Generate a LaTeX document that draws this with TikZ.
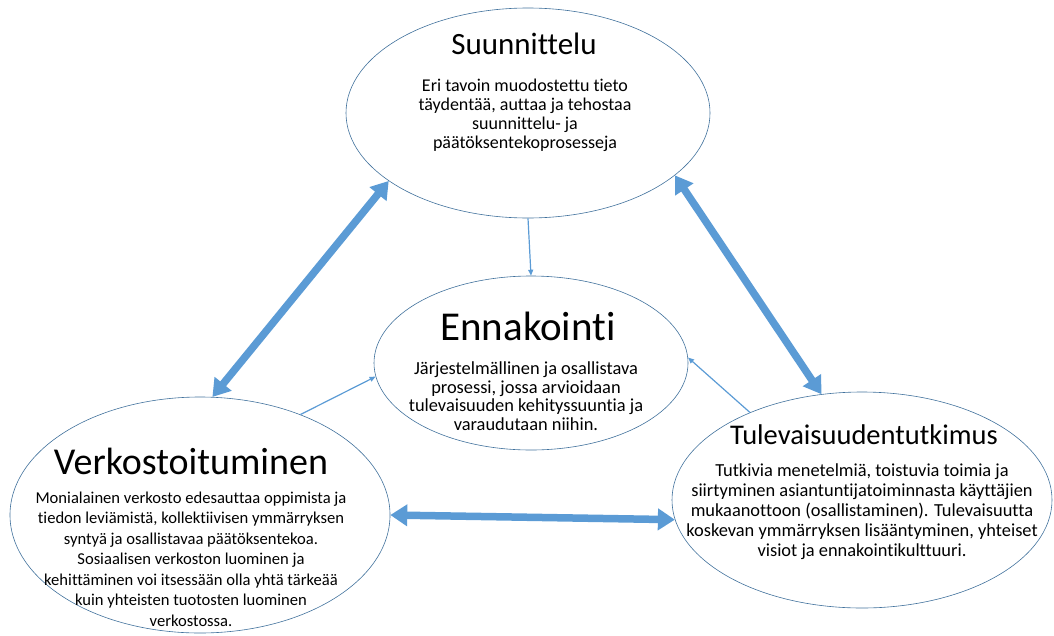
\documentclass[tikz,border=0pt]{standalone}
\usepackage{fontspec}
\setmainfont{Carlito}[Ligatures=NoCommon]
\usepackage{tikz}
\usetikzlibrary{shapes.geometric,arrows.meta}
\definecolor{arrowblue}{RGB}{91,155,213}
\definecolor{rimblue}{RGB}{65,113,156}

\begin{document}
\begin{tikzpicture}[x=1pt, y=-1pt,
  bubble/.style={draw=rimblue, line width=0.6pt, ellipse, inner sep=0pt},
  heading/.style={anchor=base, inner sep=0pt},
  body/.style={anchor=base, inner sep=0pt, align=center},
  bigarrow/.style={arrowblue, line width=7.5pt, {Triangle[length=17pt,width=21pt]}-{Triangle[length=17pt,width=21pt]}},
  smallarrow/.style={arrowblue, line width=1.2pt, -{Triangle[length=6pt,width=5pt]}}]
\useasboundingbox (0,0) rectangle (1054,635);

\node [bubble, minimum width=364pt, minimum height=210pt] (suun) at (528,113) {};
\node [bubble, minimum width=314pt, minimum height=174pt] (enn) at (531,363) {};
\node [bubble, minimum width=380pt, minimum height=236pt] (verk) at (200,515) {};
\node [bubble, minimum width=380pt, minimum height=216pt] (tule) at (862,500) {};

% body nodes sit on the baseline of their last line
\node [heading, font=\fontsize{31}{36}\selectfont] (suunT) at (524,54) {Suunnittelu};
\node [body, font=\fontsize{18}{19}\selectfont] (suunB) at (525,148)
  {Eri tavoin muodostettu tieto\\ täydentää, auttaa ja tehostaa\\ suunnittelu- ja\\ päätöksentekoprosesseja};

\node [heading, font=\fontsize{41}{46}\selectfont] (ennT) at (528,340) {Ennakointi};
\node [body, font=\fontsize{18.4}{18.5}\selectfont] (ennB) at (526,430)
  {Järjestelmällinen ja osallistava\\ prosessi, jossa arvioidaan\\ tulevaisuuden kehityssuuntia ja\\ varaudutaan niihin.};

\node [heading, font=\fontsize{38}{44}\selectfont] (verkT) at (191,474) {Verkostoituminen};
\node [body, font=\fontsize{16.6}{20.5}\selectfont] (verkB) at (191,626)
  {Monialainen verkosto edesauttaa oppimista ja\\ tiedon leviämistä, kollektiivisen ymmärryksen\\ syntyä ja osallistavaa päätöksentekoa.\\ Sosiaalisen verkoston luominen ja\\ kehittäminen voi itsessään olla yhtä tärkeää\\ kuin yhteisten tuotosten luominen\\ verkostossa.};

\node [heading, font=\fontsize{28.5}{33}\selectfont] (tuleT) at (864,444) {Tulevaisuudentutkimus};
\node [body, font=\fontsize{18.4}{20}\selectfont] (tuleB) at (862,556)
  {Tutkivia menetelmiä, toistuvia toimia ja\\ siirtyminen asiantuntijatoiminnasta käyttäjien\\ mukaanottoon (osallistaminen). Tulevaisuutta\\ koskevan ymmärryksen lisääntyminen, yhteiset\\ visiot ja ennakointikulttuuri.};

% thick links between the outer bubbles
\draw [bigarrow] (verk.84) -- (suun.206);
\draw [bigarrow] (suun.-23) -- (tule.111);
\draw [bigarrow] (verk.0) -- (tule.186);

% thin links into Ennakointi
\draw [smallarrow] (suun.south) -- (enn.north);
\draw [smallarrow] (verk.45) -- (enn.185);
\draw [smallarrow] (tule.142) -- (enn.2);
\end{tikzpicture}
\end{document}
